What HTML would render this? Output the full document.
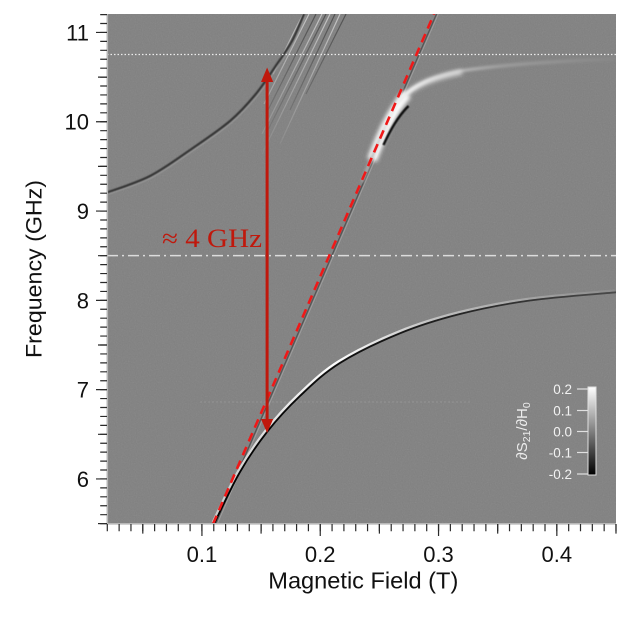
<!DOCTYPE html>
<html><head><meta charset="utf-8"><style>
html,body{margin:0;padding:0;background:#fff;}
svg{display:block;}
</style></head><body>
<svg width="626" height="622" viewBox="0 0 626 622" xmlns="http://www.w3.org/2000/svg">
<defs>
<clipPath id="pc"><rect x="107.3" y="14" width="508.7" height="510"/></clipPath>
<filter id="noise" x="0" y="0" width="1" height="1">
<feTurbulence type="fractalNoise" baseFrequency="0.85" numOctaves="1" seed="7" result="t"/>
<feColorMatrix type="saturate" values="0"/>
</filter>
<filter id="blur2" x="-30%" y="-30%" width="160%" height="160%"><feGaussianBlur stdDeviation="2.2"/></filter>
<filter id="blur1" x="-20%" y="-20%" width="140%" height="140%"><feGaussianBlur stdDeviation="1.2"/></filter>
<filter id="blur05" x="-20%" y="-20%" width="140%" height="140%"><feGaussianBlur stdDeviation="0.6"/></filter>
<linearGradient id="cb" x1="0" y1="0" x2="0" y2="1">
<stop offset="0" stop-color="#ffffff"/><stop offset="0.5" stop-color="#808080"/><stop offset="1" stop-color="#000000"/>
</linearGradient>
<linearGradient id="lowBlack" gradientUnits="userSpaceOnUse" x1="214" y1="0" x2="616" y2="0">
<stop offset="0" stop-color="#000"/><stop offset="0.45" stop-color="#151515"/><stop offset="1" stop-color="#4a4a4a"/>
</linearGradient>
<linearGradient id="lowWhite" gradientUnits="userSpaceOnUse" x1="214" y1="0" x2="616" y2="0">
<stop offset="0" stop-color="#c8c8c8"/><stop offset="0.3" stop-color="#ffffff"/><stop offset="0.55" stop-color="#c0c0c0"/><stop offset="1" stop-color="#8c8c8c"/>
</linearGradient>
<linearGradient id="upWhite" gradientUnits="userSpaceOnUse" x1="360" y1="0" x2="616" y2="0">
<stop offset="0" stop-color="#9a9a9a"/><stop offset="0.12" stop-color="#e8e8e8"/><stop offset="0.2" stop-color="#ffffff"/><stop offset="0.32" stop-color="#c4c4c4"/><stop offset="0.55" stop-color="#a0a0a0"/><stop offset="1" stop-color="#888888"/>
</linearGradient>
<linearGradient id="stLight" gradientUnits="userSpaceOnUse" x1="0" y1="14" x2="0" y2="160">
<stop offset="0" stop-color="#e0e0e0" stop-opacity="0.7"/><stop offset="1" stop-color="#e0e0e0" stop-opacity="0"/>
</linearGradient>
<linearGradient id="stDark" gradientUnits="userSpaceOnUse" x1="0" y1="14" x2="0" y2="160">
<stop offset="0" stop-color="#303030" stop-opacity="0.6"/><stop offset="1" stop-color="#303030" stop-opacity="0"/>
</linearGradient>
</defs>

<!-- plot background -->
<rect x="107.3" y="14" width="508.7" height="510" fill="#808080"/>
<rect x="107.3" y="14" width="508.7" height="510" filter="url(#noise)" opacity="0.14"/>

<g clip-path="url(#pc)">
  <!-- faint horizontal artifact -->
  <line x1="200" y1="402" x2="470" y2="402" stroke="#a8a8a8" stroke-width="1.6" stroke-dasharray="2 2" opacity="0.3"/>

  <!-- top streaks -->
  <g stroke-width="1.2" fill="none">
    <line x1="303" y1="14" x2="273" y2="74" stroke="url(#stLight)"/>
    <line x1="309" y1="14" x2="264" y2="104" stroke="url(#stLight)"/>
    <line x1="322" y1="14" x2="262" y2="134" stroke="url(#stLight)"/>
    <line x1="330" y1="14" x2="262" y2="154" stroke="url(#stLight)"/>
    <line x1="340" y1="14" x2="280" y2="144" stroke="url(#stLight)"/>
    <line x1="316" y1="14" x2="266" y2="114" stroke="url(#stDark)"/>
    <line x1="326" y1="14" x2="266" y2="134" stroke="url(#stDark)"/>
    <line x1="346" y1="14" x2="306" y2="94" stroke="url(#stDark)"/>
    <line x1="335" y1="14" x2="290" y2="110" stroke="url(#stDark)"/>
  </g>

  <!-- upper-left dark curve -->
  <path d="M107,192.5 C114.2,189.75 136.2,183.1 150,176 C163.8,168.9 176.7,159.2 190,150 C203.3,140.8 219.2,130.2 230,121 C240.8,111.8 247.5,104 255,95 C262.5,86 268.8,76 275,67 C281.2,58 287.2,49.8 292,41 C296.8,32.2 302,18.5 304,14" fill="none" stroke="#a6a6a6" stroke-width="1.6" opacity="0.55" transform="translate(1.5,1.5)" filter="url(#blur05)"/>
  <path d="M107,192.5 C114.2,189.75 136.2,183.1 150,176 C163.8,168.9 176.7,159.2 190,150 C203.3,140.8 219.2,130.2 230,121 C240.8,111.8 247.5,104 255,95 C262.5,86 268.8,76 275,67 C281.2,58 287.2,49.8 292,41 C296.8,32.2 302,18.5 304,14" fill="none" stroke="#363636" stroke-width="2.2" filter="url(#blur05)"/>

  <!-- diagonal mode line beneath red dashes -->
  <line x1="215.5" y1="524" x2="436.5" y2="14" stroke="#555" stroke-width="1.3"/>
  <line x1="217.3" y1="524" x2="438.3" y2="14" stroke="#c0c0c0" stroke-width="0.9" opacity="0.45"/>

  <!-- upper right branch -->
  <path d="M372,160 C381,136 391,112 407,94" fill="none" stroke="#ffffff" stroke-width="10" filter="url(#blur2)"/>
  <path d="M380,142 C387,127 394,114 405,103" fill="none" stroke="#0a0a0a" stroke-width="2.4" transform="translate(3.5,3)" filter="url(#blur05)"/>
  <path d="M362,182 C375,150 388,116 402,98 C414,85 432,77 460,71 C500,65 560,61 616,59" fill="none" stroke="url(#upWhite)" stroke-width="3" filter="url(#blur1)"/>
  <path d="M398,102 C412,86 432,78 462,72" fill="none" stroke="#e8e8e8" stroke-width="5" filter="url(#blur2)" opacity="0.8"/>

  <!-- lower branch -->
  <path d="M214,524 C218.3,515.3 231.1,487.4 240,472 C248.9,456.6 257.3,444.4 267.3,431.7 C277.3,419 287.9,407.5 300,396 C312.1,384.6 323.3,373.5 340,363 C356.7,352.6 380,341.5 400,333.3 C420,325.1 438.3,319.5 460,314 C481.7,308.5 504,304.1 530,300.5 C556,296.9 601.7,293.7 616,292.3" fill="none" stroke="url(#lowWhite)" stroke-width="2.2" transform="translate(-1.3,-1.8)"/>
  <path d="M214,524 C218.3,515.3 231.1,487.4 240,472 C248.9,456.6 257.3,444.4 267.3,431.7 C277.3,419 287.9,407.5 300,396 C312.1,384.6 323.3,373.5 340,363 C356.7,352.6 380,341.5 400,333.3 C420,325.1 438.3,319.5 460,314 C481.7,308.5 504,304.1 530,300.5 C556,296.9 601.7,293.7 616,292.3" fill="none" stroke="url(#lowBlack)" stroke-width="1.8"/>

  <!-- horizontal reference lines -->
  <line x1="107" y1="54.5" x2="616" y2="54.5" stroke="#ececec" stroke-width="1.3" stroke-dasharray="1.5 2"/>
  <line x1="107" y1="255.6" x2="616" y2="255.6" stroke="#dcdcdc" stroke-width="1.5" stroke-dasharray="11 4 2 4"/>

  <!-- red dashed line -->
  <line x1="213" y1="524" x2="434" y2="14" stroke="#f01818" stroke-width="2.6" stroke-dasharray="9 6"/>
</g>

<!-- frame -->
<line x1="107.3" y1="14" x2="107.3" y2="524.5" stroke="#b8b8b8" stroke-width="1.6"/>
<line x1="106.5" y1="523.8" x2="616" y2="523.8" stroke="#b8b8b8" stroke-width="1.6"/>

<!-- bottom ticks -->
<g stroke="#2a2a2a">
  <line x1="106.7" y1="527.6" x2="617" y2="527.6" stroke-width="7.2" stroke-dasharray="1.2 10.63"/>
  <line x1="142.19" y1="528.8" x2="617" y2="528.8" stroke-width="9.6" stroke-dasharray="1.2 117.1"/>
  <line x1="201.34" y1="530" x2="617" y2="530" stroke-width="12" stroke-dasharray="1.2 117.1"/>
</g>
<!-- left ticks -->
<g stroke="#2a2a2a">
  <line x1="103.6" y1="524.2" x2="103.6" y2="13" stroke-width="6.8" stroke-dasharray="1.2 7.73"/>
  <line x1="102.5" y1="524.2" x2="102.5" y2="13" stroke-width="9" stroke-dasharray="1.2 88.1"/>
  <line x1="101.5" y1="479.55" x2="101.5" y2="13" stroke-width="11" stroke-dasharray="1.2 88.1"/>
</g>

<!-- tick labels -->
<g font-family="Liberation Sans, Arial, sans-serif" font-size="22" fill="#111" text-anchor="end">
  <text x="89" y="40.4">11</text>
  <text x="89" y="129.7">10</text>
  <text x="89" y="219">9</text>
  <text x="89" y="308.3">8</text>
  <text x="89" y="397.6">7</text>
  <text x="89" y="486.9">6</text>
</g>
<g font-family="Liberation Sans, Arial, sans-serif" font-size="22" fill="#111" text-anchor="middle">
  <text x="201.9" y="562">0.1</text>
  <text x="320.2" y="562">0.2</text>
  <text x="438.5" y="562">0.3</text>
  <text x="556.8" y="562">0.4</text>
</g>

<!-- axis titles -->
<text x="363.3" y="588.3" font-family="Liberation Sans, Arial, sans-serif" font-size="23.5" fill="#111" text-anchor="middle" textLength="190" lengthAdjust="spacingAndGlyphs">Magnetic Field (T)</text>
<text transform="translate(41.5,269) rotate(-90)" font-family="Liberation Sans, Arial, sans-serif" font-size="22.5" fill="#111" text-anchor="middle" textLength="178" lengthAdjust="spacingAndGlyphs">Frequency (GHz)</text>

<!-- red arrow -->
<g fill="#c0180c" stroke="none">
  <rect x="265.6" y="80" width="3" height="342"/>
  <polygon points="267.1,67.5 261,82 273.2,82"/>
  <polygon points="267.1,433 261,419 273.2,419"/>
</g>
<text x="162" y="247" font-family="Liberation Serif, DejaVu Serif, serif" font-size="26" fill="#c0180c" textLength="100" lengthAdjust="spacingAndGlyphs">≈ 4 GHz</text>

<!-- colorbar -->
<rect x="588" y="387" width="8" height="88" fill="url(#cb)" stroke="#e0e0e0" stroke-width="1"/>
<g stroke="#e0e0e0" stroke-width="1.2">
  <line x1="577" y1="389" x2="588" y2="389"/>
  <line x1="577" y1="410.5" x2="588" y2="410.5"/>
  <line x1="577" y1="431.5" x2="588" y2="431.5"/>
  <line x1="577" y1="452.5" x2="588" y2="452.5"/>
  <line x1="577" y1="474" x2="588" y2="474"/>
</g>
<g font-family="Liberation Sans, Arial, sans-serif" font-size="13.5" fill="#f2f2f2" text-anchor="end">
  <text x="572" y="393.8">0.2</text>
  <text x="572" y="415.3">0.1</text>
  <text x="572" y="436.3">0.0</text>
  <text x="572" y="457.3">-0.1</text>
  <text x="572" y="478.8">-0.2</text>
</g>
<text transform="translate(527,431) rotate(-90)" font-family="Liberation Sans, DejaVu Sans, sans-serif" font-size="15" fill="#ececec" text-anchor="middle">∂S<tspan font-size="10.5" dy="3">21</tspan><tspan dy="-3">/∂H</tspan><tspan font-size="10.5" dy="3">0</tspan></text>
</svg>
</body></html>
